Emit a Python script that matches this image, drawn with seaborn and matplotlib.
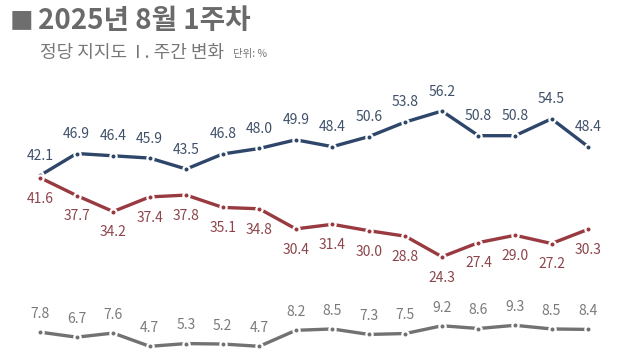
import matplotlib
matplotlib.use("Agg")
import matplotlib.pyplot as plt
import numpy as np
import pandas as pd
import seaborn as sns

# weekly party support, %
weeks = list(range(16))
blue = [42.1, 46.9, 46.4, 45.9, 43.5, 46.8, 48.0, 49.9, 48.4, 50.6, 53.8, 56.2, 50.8, 50.8, 54.5, 48.4]
red = [41.6, 37.7, 34.2, 37.4, 37.8, 35.1, 34.8, 30.4, 31.4, 30.0, 28.8, 24.3, 27.4, 29.0, 27.2, 30.3]
gray = [7.8, 6.7, 7.6, 4.7, 5.3, 5.2, 4.7, 8.2, 8.5, 7.3, 7.5, 9.2, 8.6, 9.3, 8.5, 8.4]

title = "2025년 8월 1주차"
subtitle = "정당 지지도  I . 주간 변화"
unit = "단위: %"

sns.set_theme(style="white")
plt.rcParams['font.family'] = ['Noto Sans CJK KR', 'DejaVu Sans']

df = pd.DataFrame({
    "week": weeks * 3,
    "value": blue + red + gray,
    "party": ["blue"] * 16 + ["red"] * 16 + ["gray"] * 16,
})
palette = {"blue": "#2e4669", "red": "#983a40", "gray": "#727272"}
label_col = {"blue": "#3f5068", "red": "#8c454b", "gray": "#7a7a7a"}

fig = plt.figure(figsize=(6.4, 3.6), dpi=100)
ax = fig.add_axes([20 / 640, 1 - 355 / 360, 590 / 640, 265 / 360])

sns.lineplot(data=df, x="week", y="value", hue="party", palette=palette,
             linewidth=2.4, marker="o", markersize=4.5, markeredgecolor="white",
             markeredgewidth=1.6, legend=False, ax=ax)

ax.set_xlim(-0.55, 15.6)
ax.set_ylim(2.8, 60.8)
ax.axis("off")

for name, vals, dy, va in [("blue", blue, 9, "bottom"), ("red", red, -10, "top"), ("gray", gray, 8, "bottom")]:
    for i, v in enumerate(vals):
        ax.annotate(f"{v:.1f}", (i, v), xytext=(0, dy), textcoords="offset points",
                    ha="center", va=va, fontsize=10, color=label_col[name])

fig.text(10 / 640, 1 - 22 / 360, "■", fontsize=17, color="#6e6e6e", va="center", ha="left")
fig.text(38 / 640, 1 - 21 / 360, title, fontsize=20, fontweight="bold", color="#6a6a6a",
         va="center", ha="left")
fig.text(40 / 640, 1 - 53 / 360, subtitle, fontsize=13, color="#777777", va="center", ha="left")
fig.text(233 / 640, 1 - 54 / 360, unit, fontsize=7.5, color="#777777", va="center", ha="left")

fig.savefig("out.png", dpi=100)
